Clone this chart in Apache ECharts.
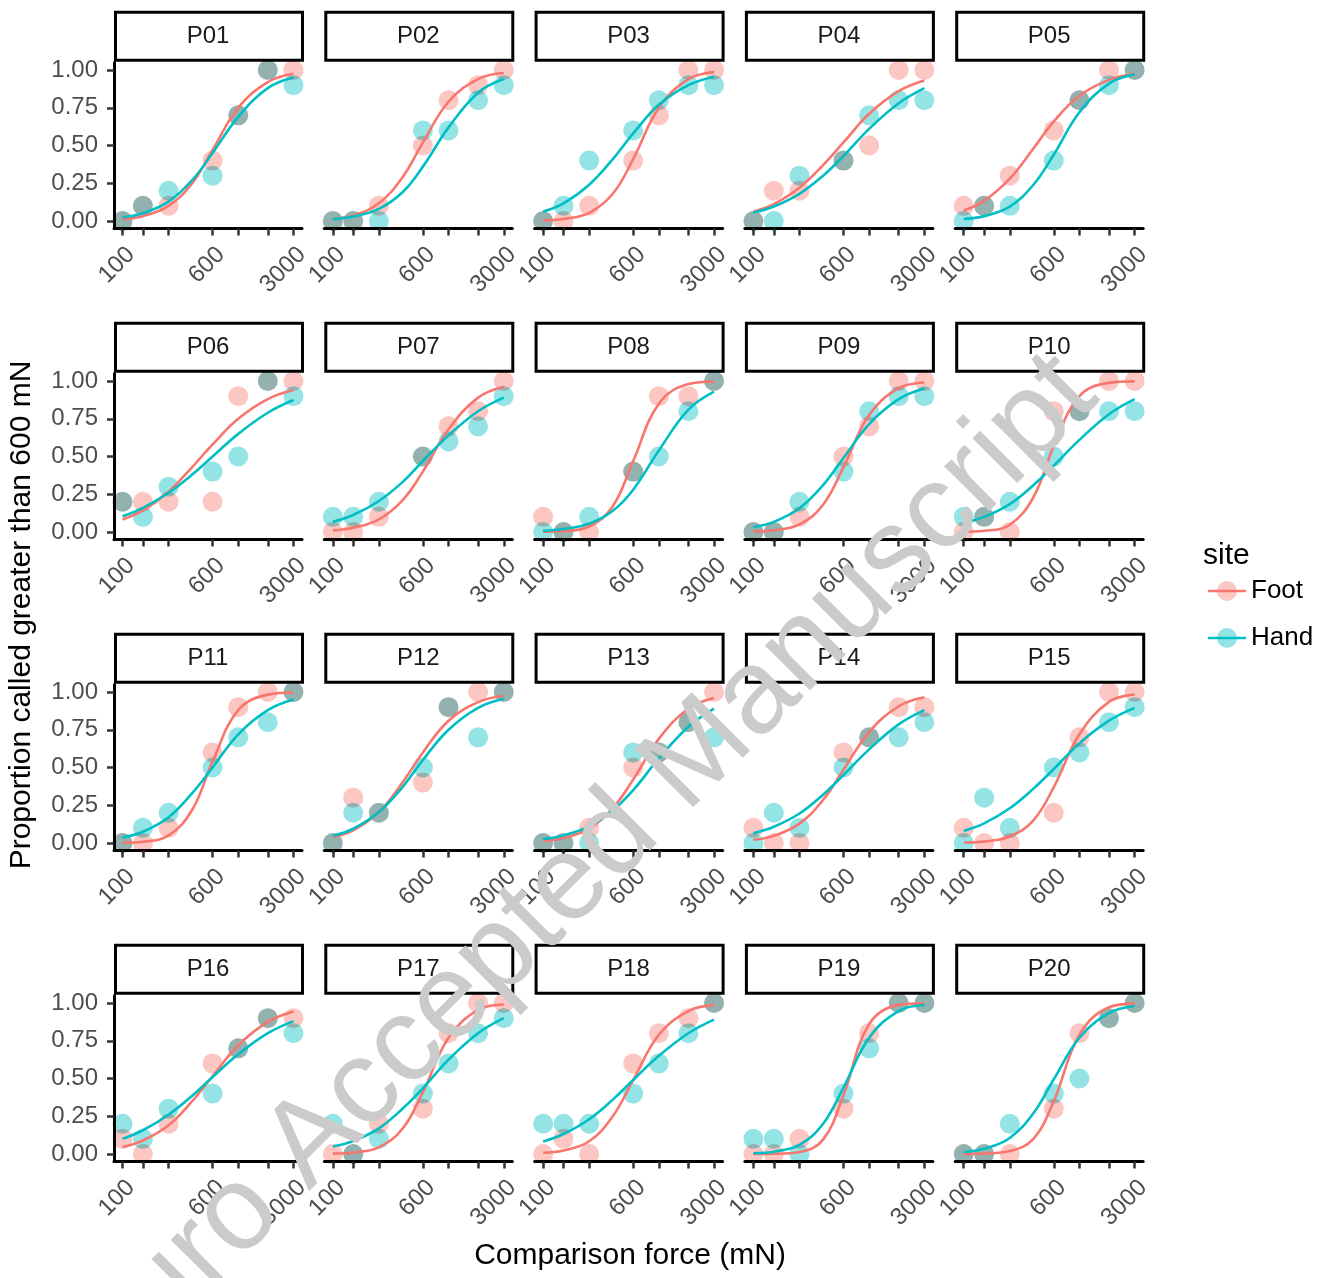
<!DOCTYPE html>
<html>
<head>
<meta charset="utf-8">
<script src="https://cdn.jsdelivr.net/npm/echarts@6/dist/echarts.min.js"></script>
<style>
  html, body { margin: 0; padding: 0; background: #fff; }
  #chart { width: 1334px; height: 1278px; }
</style>
</head>
<body>
<div id="chart"></div>
<script>
// participants, one facet each
const participants = ['P01', 'P02', 'P03', 'P04', 'P05', 'P06', 'P07', 'P08', 'P09', 'P10',
  'P11', 'P12', 'P13', 'P14', 'P15', 'P16', 'P17', 'P18', 'P19', 'P20'];

// comparison forces (mN) of the observed points
const forces = [100, 150, 250, 600, 1000, 1800, 3000];

// proportion called greater, foot site
const footProp = [
  [0, 0.1, 0.1, 0.4, 0.7, 1.0, 1.0],
  [0, 0, 0.1, 0.5, 0.8, 0.9, 1.0],
  [0, 0, 0.1, 0.4, 0.7, 1.0, 1.0],
  [0, 0.2, 0.2, 0.4, 0.5, 1.0, 1.0],
  [0.1, 0.1, 0.3, 0.6, 0.8, 1.0, 1.0],
  [0.2, 0.2, 0.2, 0.2, 0.9, 1.0, 1.0],
  [0, 0, 0.1, 0.5, 0.7, 0.8, 1.0],
  [0.1, 0, 0, 0.4, 0.9, 0.9, 1.0],
  [0, 0, 0.1, 0.5, 0.7, 1.0, 1.0],
  [0, 0.1, 0, 0.8, 0.8, 1.0, 1.0],
  [0, 0, 0.1, 0.6, 0.9, 1.0, 1.0],
  [0, 0.3, 0.2, 0.4, 0.9, 1.0, 1.0],
  [0, 0, 0.1, 0.5, 0.6, 0.8, 1.0],
  [0.1, 0, 0, 0.6, 0.7, 0.9, 0.9],
  [0.1, 0, 0, 0.2, 0.7, 1.0, 1.0],
  [0.1, 0, 0.2, 0.6, 0.7, 0.9, 0.9],
  [0, 0, 0.2, 0.3, 0.8, 1.0, 1.0],
  [0, 0.1, 0, 0.6, 0.8, 0.9, 1.0],
  [0, 0, 0.1, 0.3, 0.8, 1.0, 1.0],
  [0, 0, 0, 0.3, 0.8, 0.9, 1.0]
];

// proportion called greater, hand site
const handProp = [
  [0, 0.1, 0.2, 0.3, 0.7, 1.0, 0.9],
  [0, 0, 0, 0.6, 0.6, 0.8, 0.9],
  [0, 0.1, 0.4, 0.6, 0.8, 0.9, 0.9],
  [0, 0, 0.3, 0.4, 0.7, 0.8, 0.8],
  [0, 0.1, 0.1, 0.4, 0.8, 0.9, 1.0],
  [0.2, 0.1, 0.3, 0.4, 0.5, 1.0, 0.9],
  [0.1, 0.1, 0.2, 0.5, 0.6, 0.7, 0.9],
  [0, 0, 0.1, 0.4, 0.5, 0.8, 1.0],
  [0, 0, 0.2, 0.4, 0.8, 0.9, 0.9],
  [0.1, 0.1, 0.2, 0.5, 0.8, 0.8, 0.8],
  [0, 0.1, 0.2, 0.5, 0.7, 0.8, 1.0],
  [0, 0.2, 0.2, 0.5, 0.9, 0.7, 1.0],
  [0, 0, 0, 0.6, 0.6, 0.8, 0.7],
  [0, 0.2, 0.1, 0.5, 0.7, 0.7, 0.8],
  [0, 0.3, 0.1, 0.5, 0.6, 0.8, 0.9],
  [0.2, 0.1, 0.3, 0.4, 0.7, 0.9, 0.8],
  [0.2, 0, 0.1, 0.4, 0.6, 0.8, 0.9],
  [0.2, 0.2, 0.2, 0.4, 0.6, 0.8, 1.0],
  [0.1, 0.1, 0, 0.4, 0.7, 1.0, 1.0],
  [0, 0, 0.2, 0.4, 0.5, 0.9, 1.0]
];

// fitted curves at these forces
const curveForces = [100, 150, 250, 400, 600, 1000, 1800, 3000];

const footFit = [
  [0.013, 0.032, 0.10, 0.25, 0.47, 0.75, 0.92, 0.975],
  [0.015, 0.037, 0.117, 0.29, 0.52, 0.79, 0.94, 0.98],
  [0.004, 0.013, 0.054, 0.18, 0.41, 0.75, 0.94, 0.986],
  [0.063, 0.112, 0.22, 0.37, 0.52, 0.71, 0.86, 0.93],
  [0.069, 0.133, 0.28, 0.48, 0.66, 0.83, 0.935, 0.973],
  [0.083, 0.143, 0.267, 0.43, 0.58, 0.75, 0.88, 0.94],
  [0.011, 0.028, 0.084, 0.21, 0.40, 0.68, 0.89, 0.962],
  [0.001, 0.006, 0.036, 0.17, 0.47, 0.85, 0.98, 0.997],
  [0.003, 0.011, 0.05, 0.18, 0.43, 0.775, 0.953, 0.99],
  [0.002, 0.008, 0.048, 0.23, 0.57, 0.90, 0.988, 0.998],
  [0.002, 0.008, 0.05, 0.22, 0.54, 0.88, 0.983, 0.997],
  [0.039, 0.084, 0.205, 0.40, 0.60, 0.81, 0.933, 0.975],
  [0.014, 0.033, 0.095, 0.23, 0.42, 0.69, 0.89, 0.96],
  [0.021, 0.047, 0.128, 0.285, 0.485, 0.735, 0.906, 0.966],
  [0.003, 0.010, 0.043, 0.15, 0.37, 0.72, 0.935, 0.984],
  [0.046, 0.089, 0.19, 0.35, 0.515, 0.72, 0.875, 0.944],
  [0.003, 0.010, 0.044, 0.167, 0.41, 0.77, 0.954, 0.99],
  [0.008, 0.023, 0.084, 0.25, 0.49, 0.79, 0.947, 0.986],
  [0.0002, 0.001, 0.013, 0.095, 0.39, 0.86, 0.988, 0.999],
  [0.0006, 0.003, 0.019, 0.10, 0.35, 0.79, 0.972, 0.996]
];

const handFit = [
  [0.024, 0.051, 0.128, 0.27, 0.45, 0.69, 0.88, 0.95],
  [0.012, 0.029, 0.08, 0.19, 0.36, 0.62, 0.85, 0.94],
  [0.062, 0.117, 0.24, 0.41, 0.58, 0.77, 0.90, 0.956],
  [0.056, 0.096, 0.18, 0.30, 0.43, 0.61, 0.78, 0.88],
  [0.013, 0.032, 0.095, 0.24, 0.44, 0.72, 0.91, 0.97],
  [0.104, 0.16, 0.26, 0.38, 0.50, 0.65, 0.79, 0.874],
  [0.067, 0.112, 0.205, 0.33, 0.47, 0.64, 0.80, 0.89],
  [0.008, 0.019, 0.055, 0.14, 0.28, 0.54, 0.81, 0.93],
  [0.033, 0.067, 0.157, 0.31, 0.49, 0.715, 0.88, 0.95],
  [0.06, 0.10, 0.185, 0.31, 0.44, 0.61, 0.78, 0.88],
  [0.037, 0.074, 0.17, 0.33, 0.50, 0.72, 0.88, 0.95],
  [0.048, 0.094, 0.205, 0.37, 0.55, 0.75, 0.895, 0.955],
  [0.026, 0.05, 0.11, 0.216, 0.35, 0.56, 0.77, 0.89],
  [0.064, 0.107, 0.195, 0.32, 0.45, 0.62, 0.786, 0.88],
  [0.08, 0.13, 0.23, 0.36, 0.49, 0.66, 0.81, 0.895],
  [0.10, 0.157, 0.26, 0.385, 0.51, 0.66, 0.80, 0.88],
  [0.049, 0.086, 0.17, 0.30, 0.435, 0.625, 0.80, 0.90],
  [0.082, 0.132, 0.23, 0.36, 0.49, 0.65, 0.80, 0.89],
  [0.005, 0.015, 0.06, 0.20, 0.44, 0.77, 0.947, 0.987],
  [0.013, 0.034, 0.106, 0.27, 0.495, 0.77, 0.933, 0.98]
];

// axis ticks and labels
const xTickValues = [100, 150, 250, 600, 1000, 1800, 3000];
const xLabelValues = [100, 600, 3000];
const yTickValues = [0, 0.25, 0.5, 0.75, 1];

const FOOT = '#F8766D';
const HAND = '#00BFC4';
const FONT = '"Liberation Sans", Arial, Helvetica, sans-serif';

// facet layout
const COLS = 5;
const panelLeft = 114;
const panelStep = 210.3;
const panelW = 188;
const rowStep = 311;
const plotTop = 62.5;
const plotH = 166;

const myChart = echarts.init(document.getElementById('chart'), null, {renderer: 'canvas'});

const grids = [];
const xAxes = [];
const yAxes = [];
const series = [];
const graphics = [];

participants.forEach((name, i) => {
  const r = Math.floor(i / COLS);
  const c = i % COLS;
  const left = panelLeft + panelStep * c;
  const top = plotTop + rowStep * r;

  grids.push({left: left, top: top, width: panelW, height: plotH, containLabel: false});

  xAxes.push({
    type: 'log',
    logBase: 10,
    gridIndex: i,
    min: 84.38,
    max: 3556,
    axisLine: {show: true, onZero: false, lineStyle: {color: '#000', width: 3}},
    axisTick: {
      show: true,
      customValues: xTickValues,
      length: 7,
      lineStyle: {color: '#333', width: 2.5}
    },
    axisLabel: {
      show: true,
      customValues: xLabelValues,
      rotate: 45,
      margin: 14,
      lineHeight: 24,
      color: '#4d4d4d',
      fontSize: 24,
      fontFamily: FONT,
      // empty first line pushes the rotated label below its tick, like hjust = 1
      formatter: v => '\n' + Math.round(v)
    },
    splitLine: {show: false},
    minorTick: {show: false}
  });

  const first = c === 0;
  yAxes.push({
    type: 'value',
    gridIndex: i,
    min: -0.05,
    max: 1.05,
    axisLine: {show: first, lineStyle: {color: '#000', width: 3}},
    axisTick: {
      show: first,
      customValues: yTickValues,
      length: 7,
      lineStyle: {color: '#333', width: 2.5}
    },
    axisLabel: {
      show: first,
      customValues: yTickValues,
      margin: 16,
      color: '#4d4d4d',
      fontSize: 24,
      fontFamily: FONT,
      formatter: v => v.toFixed(2)
    },
    splitLine: {show: false}
  });

  const pts = (vals) => forces.map((f, k) => [f, vals[k]]);
  const fit = (vals) => curveForces.map((f, k) => [f, vals[k]]);

  [[footProp[i], FOOT, 'Foot'], [handProp[i], HAND, 'Hand']].forEach(([vals, col, nm]) => {
    series.push({
      name: nm,
      type: 'scatter',
      xAxisIndex: i,
      yAxisIndex: i,
      data: pts(vals),
      symbol: 'circle',
      symbolSize: 20,
      blendMode: 'multiply',
      itemStyle: {color: col, opacity: 0.42},
      silent: true,
      z: 2
    });
  });

  [[footFit[i], FOOT, 'Foot'], [handFit[i], HAND, 'Hand']].forEach(([vals, col, nm]) => {
    series.push({
      name: nm,
      type: 'line',
      xAxisIndex: i,
      yAxisIndex: i,
      data: fit(vals),
      smooth: 0.4,
      showSymbol: false,
      symbol: 'none',
      lineStyle: {color: col, width: 2.6},
      silent: true,
      z: 3
    });
  });

  // facet strip
  const stripTop = 12.2 + rowStep * r;
  graphics.push({
    type: 'rect',
    shape: {x: left + 1.5, y: stripTop, width: panelW - 1, height: 48},
    style: {fill: '#fff', stroke: '#000', lineWidth: 3},
    z: 5
  });
  graphics.push({
    type: 'text',
    x: left + panelW / 2,
    y: stripTop + 24.5,
    style: {text: name, fill: '#1a1a1a', font: '24px ' + FONT, align: 'center', verticalAlign: 'middle'},
    z: 6
  });
});

// axis titles
graphics.push({
  type: 'text',
  x: 630,
  y: 1256,
  style: {text: 'Comparison force (mN)', fill: '#000', font: '30px ' + FONT, align: 'center', verticalAlign: 'middle'},
  z: 6
});
graphics.push({
  type: 'text',
  x: 22,
  y: 615,
  rotation: Math.PI / 2,
  style: {text: 'Proportion called greater than 600 mN', fill: '#000', font: '30px ' + FONT, align: 'center', verticalAlign: 'middle'},
  z: 6
});

// legend
graphics.push({
  type: 'text',
  x: 1203,
  y: 556,
  style: {text: 'site', fill: '#000', font: '30px ' + FONT, align: 'left', verticalAlign: 'middle'},
  z: 6
});
[['Foot', FOOT, 591], ['Hand', HAND, 638]].forEach(([lab, col, y]) => {
  graphics.push({type: 'line', shape: {x1: 1208, y1: y, x2: 1246, y2: y}, style: {stroke: col, lineWidth: 2.5}, z: 6});
  graphics.push({type: 'circle', shape: {cx: 1227, cy: y, r: 10}, style: {fill: col, opacity: 0.42}, z: 6});
  graphics.push({
    type: 'text',
    x: 1251,
    y: y,
    style: {text: lab, fill: '#000', font: '26px ' + FONT, align: 'left', verticalAlign: 'middle'},
    z: 6
  });
});

// watermark, multiplied over the plot
graphics.push({
  type: 'text',
  x: -16.5,
  y: 1470,
  rotation: Math.PI / 4,
  style: {
    text: 'eNeuro Accepted Manuscript',
    fill: '#cbcbcb',
    blend: 'multiply',
    font: '120px ' + FONT,
    align: 'left',
    verticalAlign: 'middle'
  },
  z: 100
});

const option = {
  backgroundColor: '#ffffff',
  animation: false,
  grid: grids,
  xAxis: xAxes,
  yAxis: yAxes,
  series: series,
  graphic: graphics
};

myChart.setOption(option);
</script>
</body>
</html>
